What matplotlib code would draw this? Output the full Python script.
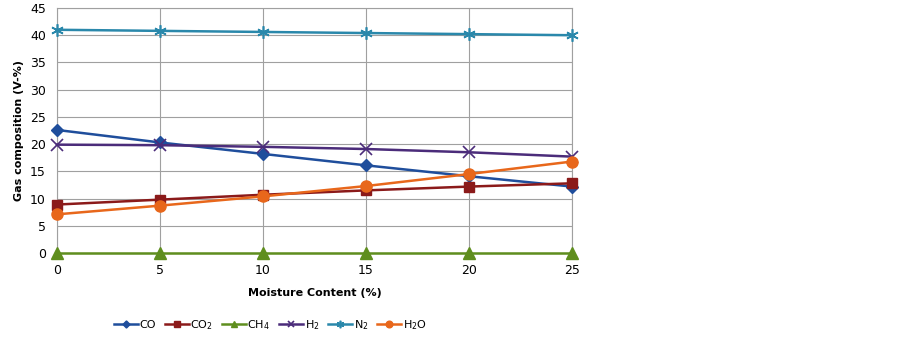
import matplotlib
matplotlib.use('Agg')
import matplotlib.pyplot as plt

# moisture content (%)
moisture = [0, 5, 10, 15, 20, 25]

# gas composition (V-%)
co = [22.6, 20.3, 18.2, 16.1, 14.1, 12.2]
co2 = [8.9, 9.8, 10.7, 11.5, 12.2, 12.8]
ch4 = [0, 0, 0, 0, 0, 0]
h2 = [19.9, 19.8, 19.5, 19.1, 18.5, 17.7]
n2 = [41.0, 40.8, 40.6, 40.4, 40.2, 40.0]
h2o = [7.1, 8.7, 10.4, 12.3, 14.5, 16.8]

fig = plt.figure(figsize=(9.02, 3.39), dpi=100)
ax = fig.add_axes([57 / 902, 1 - 253 / 339, (572 - 57) / 902, (253 - 8) / 339])

ax.plot(moisture, co, color='#1f4e9c', marker='D', markersize=6, lw=1.8, label='CO', clip_on=False, zorder=3)
ax.plot(moisture, co2, color='#8b1a1a', marker='s', markersize=7.5, lw=1.8, label=r'$\mathregular{CO_2}$', clip_on=False, zorder=3)
ax.plot(moisture, ch4, color='#5f8e1e', marker='^', markersize=8, lw=1.8, label=r'$\mathregular{CH_4}$', clip_on=False, zorder=3)
ax.plot(moisture, h2, color='#4b2c7a', marker='x', markersize=8, mew=1.2, lw=1.8, label=r'$\mathregular{H_2}$', clip_on=False, zorder=3)
ax.plot(moisture, n2, color='#2a88ab', marker=(6, 2, 0), markersize=9, mew=1.2, lw=1.8, label=r'$\mathregular{N_2}$', clip_on=False, zorder=3)
ax.plot(moisture, h2o, color='#e8671b', marker='o', markersize=8, lw=1.8, label=r'$\mathregular{H_2O}$', clip_on=False, zorder=3)

ax.set_xlim(0, 25)
ax.set_ylim(0, 45)
ax.set_xticks(moisture)
ax.set_yticks(range(0, 46, 5))
ax.grid(True, color='#a0a0a0', lw=0.8)
for s in ax.spines.values():
    s.set_color('#a0a0a0')
    s.set_linewidth(0.8)
ax.tick_params(length=0, labelsize=9, pad=8)
ax.set_xlabel('Moisture Content (%)', fontsize=8, fontweight='bold', labelpad=8)
ax.set_ylabel('Gas composition (V-%)', fontsize=8, fontweight='bold', labelpad=4)

fig.legend(loc='center', bbox_to_anchor=(270 / 902, 1 - 325 / 339), ncol=6, frameon=False,
           fontsize=8, handlelength=2.2, handletextpad=0.1, columnspacing=0.8, markerscale=0.6)

fig.savefig('out.png', dpi=100)
